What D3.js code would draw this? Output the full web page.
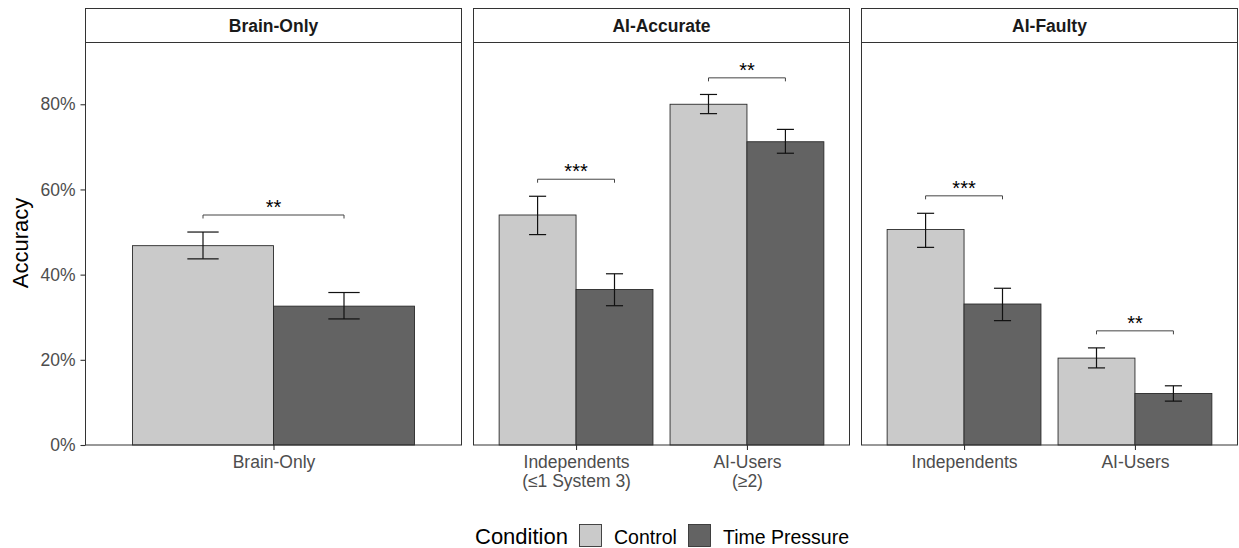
<!DOCTYPE html>
<html>
<head>
<meta charset="utf-8">
<script src="https://cdn.jsdelivr.net/npm/d3@7"></script>
<style>
  body { margin: 0; background: #fff; }
  svg { font-family: "Liberation Sans", Arial, sans-serif; }
</style>
</head>
<body>
<div id="chart"></div>
<script>
// facets and their x categories
const panels = ["Brain-Only", "AI-Accurate", "AI-Faulty"];
const categories = [
    ["Brain-Only"],
    ["Independents\n(≤1 System 3)", "AI-Users\n(≥2)"],
    ["Independents", "AI-Users"]
];
const conditions = ["Control", "Time Pressure"];
const colors = ["#cacaca", "#636363"];

// values in the order panel by panel, category by category
const controlMean = [0.468, 0.540, 0.800, 0.506, 0.204];
const controlLow  = [0.437, 0.494, 0.778, 0.464, 0.181];
const controlHigh = [0.500, 0.584, 0.823, 0.544, 0.228];
const pressureMean = [0.326, 0.365, 0.712, 0.331, 0.121];
const pressureLow  = [0.296, 0.327, 0.685, 0.292, 0.103];
const pressureHigh = [0.358, 0.402, 0.741, 0.368, 0.139];

// significance brackets (one per category)
const sigHeight = [0.540, 0.624, 0.862, 0.585, 0.268];
const sigLabel  = ["**", "***", "**", "***", "**"];

const yTicks = [0, 0.2, 0.4, 0.6, 0.8];

const width = 1239, height = 548;
const panelLeft = 85.5, panelWidth = 376, panelGap = 12;
const stripTop = 8.5, stripBottom = 42.5, plotBottom = 445;

const svg = d3.select("#chart").append("svg")
    .attr("width", width)
    .attr("height", height);

const y = d3.scaleLinear()
    .domain([0, 0.945])
    .range([plotBottom, stripBottom]);

// y axis (only left of first panel)
const yAxis = svg.append("g")
    .attr("transform", `translate(${panelLeft},0)`)
    .call(d3.axisLeft(y).tickValues(yTicks).tickFormat(d3.format(".0%")).tickSize(5).tickPadding(5));
yAxis.select(".domain").remove();
yAxis.selectAll(".tick line").attr("stroke", "#333").attr("stroke-width", 1.1);
yAxis.selectAll(".tick text")
    .attr("fill", "#4d4d4d")
    .style("font-size", "17.5px");

svg.append("text")
    .attr("transform", `translate(28,243) rotate(-90)`)
    .attr("text-anchor", "middle")
    .style("font-size", "22px")
    .attr("fill", "#000")
    .text("Accuracy");

let idx = 0;
panels.forEach((name, p) => {
    const x0 = panelLeft + p * (panelWidth + panelGap);
    const cats = categories[p];
    const g = svg.append("g").attr("transform", `translate(${x0},0)`);

    // ggplot style discrete expansion of 0.6 on each side
    const x = d3.scaleLinear()
        .domain([1 - 0.6, cats.length + 0.6])
        .range([0, panelWidth]);
    const unit = x(1) - x(0);

    // strip
    g.append("rect")
        .attr("x", 0).attr("y", stripTop)
        .attr("width", panelWidth).attr("height", stripBottom - stripTop)
        .attr("fill", "#fff")
        .attr("stroke", "#333").attr("stroke-width", 1);
    g.append("text")
        .attr("x", panelWidth / 2).attr("y", 32)
        .attr("text-anchor", "middle")
        .style("font-size", "17.5px")
        .style("font-weight", "bold")
        .attr("fill", "#1a1a1a")
        .text(name);

    // data rows for this panel
    const rows = cats.map((c, i) => {
        const k = idx + i;
        return {
            pos: i + 1,
            bars: [
                { cond: 0, mean: controlMean[k], lo: controlLow[k], hi: controlHigh[k] },
                { cond: 1, mean: pressureMean[k], lo: pressureLow[k], hi: pressureHigh[k] }
            ],
            sig: sigHeight[k],
            label: sigLabel[k]
        };
    });
    idx += cats.length;

    const bars = rows.flatMap(r => r.bars.map(b => Object.assign({ pos: r.pos }, b)));
    const offset = d => d.cond === 0 ? -0.225 : 0.225;

    g.selectAll(".bar")
        .data(bars)
        .enter()
        .append("rect")
        .attr("class", "bar")
        .attr("x", d => x(d.pos + offset(d) - 0.225))
        .attr("width", 0.45 * unit)
        .attr("y", d => y(d.mean))
        .attr("height", d => y(0) - y(d.mean))
        .attr("fill", d => colors[d.cond])
        .attr("stroke", "#2a2a2a")
        .attr("stroke-width", 0.9);

    // error bars
    const eb = g.selectAll(".err")
        .data(bars)
        .enter()
        .append("g")
        .attr("class", "err")
        .attr("stroke", "#111")
        .attr("stroke-width", 1.2);
    eb.append("line")
        .attr("x1", d => x(d.pos + offset(d))).attr("x2", d => x(d.pos + offset(d)))
        .attr("y1", d => y(d.lo)).attr("y2", d => y(d.hi));
    eb.append("line")
        .attr("x1", d => x(d.pos + offset(d) - 0.05)).attr("x2", d => x(d.pos + offset(d) + 0.05))
        .attr("y1", d => y(d.hi)).attr("y2", d => y(d.hi));
    eb.append("line")
        .attr("x1", d => x(d.pos + offset(d) - 0.05)).attr("x2", d => x(d.pos + offset(d) + 0.05))
        .attr("y1", d => y(d.lo)).attr("y2", d => y(d.lo));

    // significance brackets
    g.selectAll(".bracket")
        .data(rows)
        .enter()
        .append("path")
        .attr("class", "bracket")
        .attr("fill", "none")
        .attr("stroke", "#444")
        .attr("stroke-width", 1)
        .attr("d", d => {
            const a = x(d.pos - 0.225), b = x(d.pos + 0.225), yy = y(d.sig);
            return `M${a},${yy + 3.5}V${yy}H${b}V${yy + 3.5}`;
        });
    g.selectAll(".sig")
        .data(rows)
        .enter()
        .append("text")
        .attr("class", "sig")
        .attr("x", d => x(d.pos))
        .attr("y", d => y(d.sig) - 1)
        .attr("text-anchor", "middle")
        .style("font-size", "20px")
        .attr("fill", "#000")
        .text(d => d.label);

    // panel border
    g.append("rect")
        .attr("x", 0).attr("y", stripBottom)
        .attr("width", panelWidth).attr("height", plotBottom - stripBottom)
        .attr("fill", "none")
        .attr("stroke", "#333").attr("stroke-width", 1);

    // x axis
    const xAxis = g.append("g")
        .attr("transform", `translate(0,${plotBottom})`)
        .call(d3.axisBottom(x).tickValues(d3.range(1, cats.length + 1)).tickFormat("").tickSize(5));
    xAxis.select(".domain").remove();
    xAxis.selectAll(".tick line").attr("stroke", "#333").attr("stroke-width", 1.1);
    xAxis.selectAll(".tick").each(function(d) {
        const lines = cats[d - 1].split("\n");
        const t = d3.select(this).append("text")
            .attr("y", 23)
            .attr("text-anchor", "middle")
            .attr("fill", "#4d4d4d")
            .style("font-size", "17.5px");
        lines.forEach((l, i) => {
            t.append("tspan").attr("x", 0).attr("dy", i === 0 ? 0 : 19).text(l);
        });
    });
});

// legend
const legend = svg.append("g");
legend.append("text")
    .attr("x", 475).attr("y", 544)
    .style("font-size", "22px")
    .attr("fill", "#000")
    .text("Condition");
const keyX = [579.5, 688.5];
const labelX = [614, 723];
conditions.forEach((c, i) => {
    legend.append("rect")
        .attr("x", keyX[i]).attr("y", 524.5)
        .attr("width", 22).attr("height", 22)
        .attr("fill", colors[i])
        .attr("stroke", "#333").attr("stroke-width", 0.9);
    legend.append("text")
        .attr("x", labelX[i]).attr("y", 543.5)
        .style("font-size", "19.5px")
        .attr("fill", "#000")
        .text(c);
});
</script>
</body>
</html>
